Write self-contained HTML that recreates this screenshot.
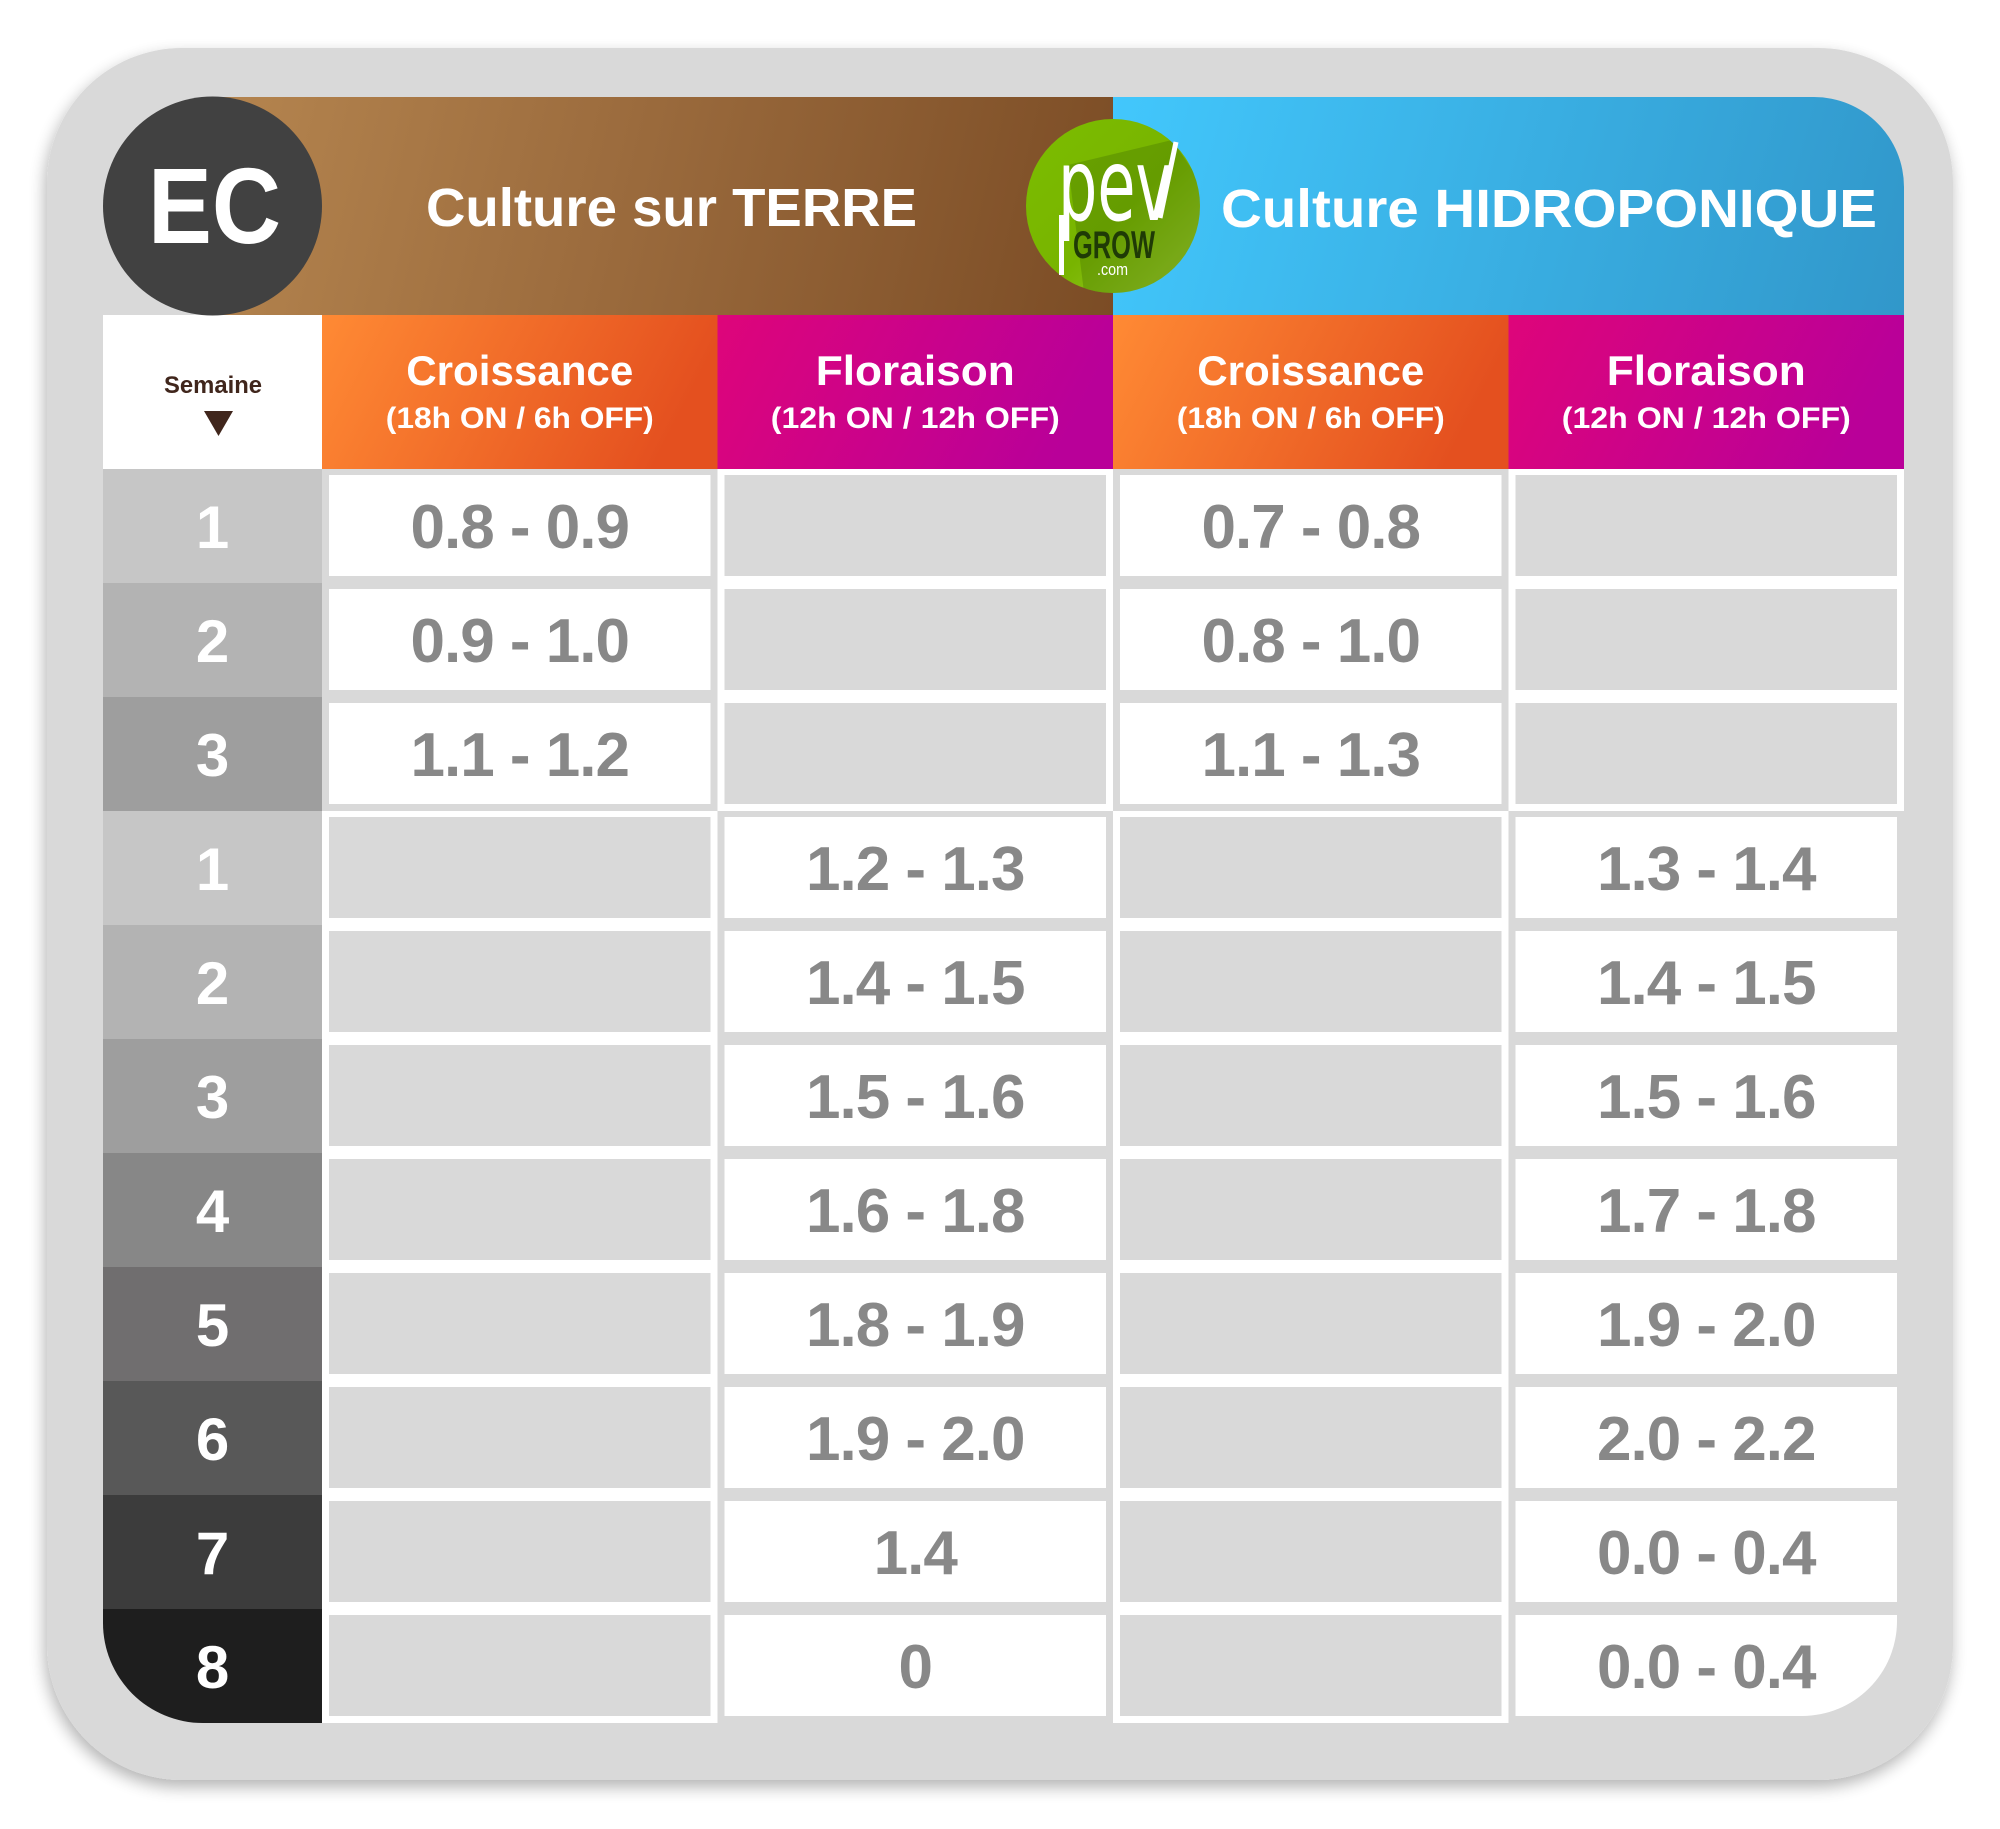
<!DOCTYPE html>
<html>
<head>
<meta charset="utf-8">
<style>
html,body{margin:0;padding:0;background:#fff;}
svg{display:block;}
text{font-family:"Liberation Sans",Arial,sans-serif;font-weight:bold;}
</style>
</head>
<body>
<svg width="2000" height="1829" viewBox="0 0 2000 1829" xmlns="http://www.w3.org/2000/svg">
<defs>
  <filter id="sh" x="-5%" y="-5%" width="110%" height="112%">
    <feGaussianBlur in="SourceAlpha" stdDeviation="8"/>
    <feOffset dx="-2" dy="7" result="o"/>
    <feComponentTransfer><feFuncA type="linear" slope="0.3"/></feComponentTransfer>
    <feMerge><feMergeNode/><feMergeNode in="SourceGraphic"/></feMerge>
  </filter>
  <linearGradient id="brown" x1="212" y1="97" x2="1113" y2="315" gradientUnits="userSpaceOnUse">
    <stop offset="0" stop-color="#b5854f"/>
    <stop offset="0.45" stop-color="#9b6b3d"/>
    <stop offset="1" stop-color="#7b4c25"/>
  </linearGradient>
  <linearGradient id="blue" x1="1113" y1="97" x2="1904" y2="315" gradientUnits="userSpaceOnUse">
    <stop offset="0" stop-color="#42c7fc"/>
    <stop offset="1" stop-color="#3197ca"/>
  </linearGradient>
  <linearGradient id="orange" x1="0" y1="0" x2="1" y2="0.2">
    <stop offset="0" stop-color="#ff8a34"/>
    <stop offset="1" stop-color="#e4501f"/>
  </linearGradient>
  <linearGradient id="mag" x1="0" y1="0" x2="1" y2="0.2">
    <stop offset="0" stop-color="#de057a"/>
    <stop offset="1" stop-color="#b90099"/>
  </linearGradient>
  <linearGradient id="green" x1="0" y1="0" x2="1" y2="1">
    <stop offset="0" stop-color="#7cbd00"/>
    <stop offset="0.55" stop-color="#78b400"/>
    <stop offset="1" stop-color="#a2cf36"/>
  </linearGradient>
  <clipPath id="logoclip"><circle cx="1113" cy="206" r="87"/></clipPath>
</defs>

<rect x="0" y="0" width="2000" height="1829" fill="#fff"/>
<rect x="47" y="48" width="1906" height="1732" rx="135" ry="135" fill="#d9d9d9" filter="url(#sh)"/>

<rect x="212" y="97" width="901" height="218" fill="url(#brown)"/>
<path d="M1113 97 H1814 A90 90 0 0 1 1904 187 V315 H1113 Z" fill="url(#blue)"/>

<rect x="103" y="315" width="219" height="154" fill="#fff"/>
<rect x="322" y="315" width="395.5" height="154" fill="url(#orange)"/>
<rect x="717.5" y="315" width="395.5" height="154" fill="url(#mag)"/>
<rect x="1113" y="315" width="395.5" height="154" fill="url(#orange)"/>
<rect x="1508.5" y="315" width="395.5" height="154" fill="url(#mag)"/>

<circle cx="212.5" cy="206" r="109.5" fill="#414141"/>
<text x="148" y="243" font-size="108" fill="#fff" textLength="133" lengthAdjust="spacingAndGlyphs">EC</text>

<text x="426" y="226" font-size="54" fill="#fff" textLength="491" lengthAdjust="spacingAndGlyphs">Culture sur TERRE</text>
<text x="1221" y="227" font-size="54" fill="#fff" textLength="656" lengthAdjust="spacingAndGlyphs">Culture HIDROPONIQUE</text>

<!-- logo -->
<circle cx="1113" cy="206" r="87" fill="url(#green)"/>
<g clip-path="url(#logoclip)">
  <polygon points="1068,165 1172,140 1240,240 1170,310 1085,300" fill="#3a6800" opacity="0.3"/>
</g>
<g transform="translate(1058,220) scale(0.62,1)">
  <text x="0" y="0" font-size="100" fill="#fff" style="font-family:'DejaVu Sans',sans-serif;font-weight:normal">pev</text>
</g>
<line x1="1160" y1="218" x2="1176" y2="142" stroke="#fff" stroke-width="5"/>
<rect x="1059" y="215" width="5" height="60" fill="#fff"/>
<text x="1073" y="258" font-size="39" fill="#1f3a06" textLength="82" lengthAdjust="spacingAndGlyphs">GROW</text>
<text x="1097" y="275" font-size="17" fill="#fff" style="font-weight:normal" textLength="31" lengthAdjust="spacingAndGlyphs">.com</text>

<text x="164" y="393" font-size="24" fill="#40261c" textLength="98" lengthAdjust="spacingAndGlyphs">Semaine</text>
<polygon points="204,411 233,411 218.5,436" fill="#40261c"/>

<g fill="#fff" text-anchor="middle">
  <text x="519.75" y="385" font-size="42" textLength="227" lengthAdjust="spacingAndGlyphs">Croissance</text>
  <text x="519.75" y="428" font-size="30" textLength="268" lengthAdjust="spacingAndGlyphs">(18h ON / 6h OFF)</text>
  <text x="915.25" y="385" font-size="42" textLength="199" lengthAdjust="spacingAndGlyphs">Floraison</text>
  <text x="915.25" y="428" font-size="30" textLength="289" lengthAdjust="spacingAndGlyphs">(12h ON / 12h OFF)</text>
  <text x="1310.75" y="385" font-size="42" textLength="227" lengthAdjust="spacingAndGlyphs">Croissance</text>
  <text x="1310.75" y="428" font-size="30" textLength="268" lengthAdjust="spacingAndGlyphs">(18h ON / 6h OFF)</text>
  <text x="1706.25" y="385" font-size="42" textLength="199" lengthAdjust="spacingAndGlyphs">Floraison</text>
  <text x="1706.25" y="428" font-size="30" textLength="289" lengthAdjust="spacingAndGlyphs">(12h ON / 12h OFF)</text>
</g>

<rect x="103" y="469" width="219" height="114" fill="#c6c6c6"/>
<rect x="103" y="583" width="219" height="114" fill="#b3b3b3"/>
<rect x="103" y="697" width="219" height="114" fill="#9e9e9e"/>
<rect x="103" y="811" width="219" height="114" fill="#c6c6c6"/>
<rect x="103" y="925" width="219" height="114" fill="#b3b3b3"/>
<rect x="103" y="1039" width="219" height="114" fill="#9e9e9e"/>
<rect x="103" y="1153" width="219" height="114" fill="#878787"/>
<rect x="103" y="1267" width="219" height="114" fill="#706e6f"/>
<rect x="103" y="1381" width="219" height="114" fill="#585858"/>
<rect x="103" y="1495" width="219" height="114" fill="#3c3c3c"/>
<path d="M103 1609 H322 V1723 H203 A100 100 0 0 1 103 1623 Z" fill="#1e1e1e"/>

<g fill="#fff" font-size="60" text-anchor="middle">
  <text x="212.5" y="548">1</text>
  <text x="212.5" y="662">2</text>
  <text x="212.5" y="776">3</text>
  <text x="212.5" y="890">1</text>
  <text x="212.5" y="1004">2</text>
  <text x="212.5" y="1118">3</text>
  <text x="212.5" y="1232">4</text>
  <text x="212.5" y="1346">5</text>
  <text x="212.5" y="1460">6</text>
  <text x="212.5" y="1574">7</text>
  <text x="212.5" y="1688">8</text>
</g>

<g>
  <rect x="322" y="469" width="395.5" height="114" fill="#d9d9d9"/><rect x="329" y="475" width="381.5" height="101" fill="#fff"/>
  <rect x="717.5" y="469" width="395.5" height="114" fill="#fff"/><rect x="724.5" y="475" width="381.5" height="101" fill="#d9d9d9"/>
  <rect x="1113" y="469" width="395.5" height="114" fill="#d9d9d9"/><rect x="1120" y="475" width="381.5" height="101" fill="#fff"/>
  <rect x="1508.5" y="469" width="395.5" height="114" fill="#fff"/><rect x="1515.5" y="475" width="381.5" height="101" fill="#d9d9d9"/>

  <rect x="322" y="583" width="395.5" height="114" fill="#d9d9d9"/><rect x="329" y="589" width="381.5" height="101" fill="#fff"/>
  <rect x="717.5" y="583" width="395.5" height="114" fill="#fff"/><rect x="724.5" y="589" width="381.5" height="101" fill="#d9d9d9"/>
  <rect x="1113" y="583" width="395.5" height="114" fill="#d9d9d9"/><rect x="1120" y="589" width="381.5" height="101" fill="#fff"/>
  <rect x="1508.5" y="583" width="395.5" height="114" fill="#fff"/><rect x="1515.5" y="589" width="381.5" height="101" fill="#d9d9d9"/>

  <rect x="322" y="697" width="395.5" height="114" fill="#d9d9d9"/><rect x="329" y="703" width="381.5" height="101" fill="#fff"/>
  <rect x="717.5" y="697" width="395.5" height="114" fill="#fff"/><rect x="724.5" y="703" width="381.5" height="101" fill="#d9d9d9"/>
  <rect x="1113" y="697" width="395.5" height="114" fill="#d9d9d9"/><rect x="1120" y="703" width="381.5" height="101" fill="#fff"/>
  <rect x="1508.5" y="697" width="395.5" height="114" fill="#fff"/><rect x="1515.5" y="703" width="381.5" height="101" fill="#d9d9d9"/>

  <rect x="322" y="811" width="395.5" height="114" fill="#fff"/><rect x="329" y="817" width="381.5" height="101" fill="#d9d9d9"/>
  <rect x="717.5" y="811" width="395.5" height="114" fill="#d9d9d9"/><rect x="724.5" y="817" width="381.5" height="101" fill="#fff"/>
  <rect x="1113" y="811" width="395.5" height="114" fill="#fff"/><rect x="1120" y="817" width="381.5" height="101" fill="#d9d9d9"/>
  <rect x="1508.5" y="811" width="395.5" height="114" fill="#d9d9d9"/><rect x="1515.5" y="817" width="381.5" height="101" fill="#fff"/>

  <rect x="322" y="925" width="395.5" height="114" fill="#fff"/><rect x="329" y="931" width="381.5" height="101" fill="#d9d9d9"/>
  <rect x="717.5" y="925" width="395.5" height="114" fill="#d9d9d9"/><rect x="724.5" y="931" width="381.5" height="101" fill="#fff"/>
  <rect x="1113" y="925" width="395.5" height="114" fill="#fff"/><rect x="1120" y="931" width="381.5" height="101" fill="#d9d9d9"/>
  <rect x="1508.5" y="925" width="395.5" height="114" fill="#d9d9d9"/><rect x="1515.5" y="931" width="381.5" height="101" fill="#fff"/>

  <rect x="322" y="1039" width="395.5" height="114" fill="#fff"/><rect x="329" y="1045" width="381.5" height="101" fill="#d9d9d9"/>
  <rect x="717.5" y="1039" width="395.5" height="114" fill="#d9d9d9"/><rect x="724.5" y="1045" width="381.5" height="101" fill="#fff"/>
  <rect x="1113" y="1039" width="395.5" height="114" fill="#fff"/><rect x="1120" y="1045" width="381.5" height="101" fill="#d9d9d9"/>
  <rect x="1508.5" y="1039" width="395.5" height="114" fill="#d9d9d9"/><rect x="1515.5" y="1045" width="381.5" height="101" fill="#fff"/>

  <rect x="322" y="1153" width="395.5" height="114" fill="#fff"/><rect x="329" y="1159" width="381.5" height="101" fill="#d9d9d9"/>
  <rect x="717.5" y="1153" width="395.5" height="114" fill="#d9d9d9"/><rect x="724.5" y="1159" width="381.5" height="101" fill="#fff"/>
  <rect x="1113" y="1153" width="395.5" height="114" fill="#fff"/><rect x="1120" y="1159" width="381.5" height="101" fill="#d9d9d9"/>
  <rect x="1508.5" y="1153" width="395.5" height="114" fill="#d9d9d9"/><rect x="1515.5" y="1159" width="381.5" height="101" fill="#fff"/>

  <rect x="322" y="1267" width="395.5" height="114" fill="#fff"/><rect x="329" y="1273" width="381.5" height="101" fill="#d9d9d9"/>
  <rect x="717.5" y="1267" width="395.5" height="114" fill="#d9d9d9"/><rect x="724.5" y="1273" width="381.5" height="101" fill="#fff"/>
  <rect x="1113" y="1267" width="395.5" height="114" fill="#fff"/><rect x="1120" y="1273" width="381.5" height="101" fill="#d9d9d9"/>
  <rect x="1508.5" y="1267" width="395.5" height="114" fill="#d9d9d9"/><rect x="1515.5" y="1273" width="381.5" height="101" fill="#fff"/>

  <rect x="322" y="1381" width="395.5" height="114" fill="#fff"/><rect x="329" y="1387" width="381.5" height="101" fill="#d9d9d9"/>
  <rect x="717.5" y="1381" width="395.5" height="114" fill="#d9d9d9"/><rect x="724.5" y="1387" width="381.5" height="101" fill="#fff"/>
  <rect x="1113" y="1381" width="395.5" height="114" fill="#fff"/><rect x="1120" y="1387" width="381.5" height="101" fill="#d9d9d9"/>
  <rect x="1508.5" y="1381" width="395.5" height="114" fill="#d9d9d9"/><rect x="1515.5" y="1387" width="381.5" height="101" fill="#fff"/>

  <rect x="322" y="1495" width="395.5" height="114" fill="#fff"/><rect x="329" y="1501" width="381.5" height="101" fill="#d9d9d9"/>
  <rect x="717.5" y="1495" width="395.5" height="114" fill="#d9d9d9"/><rect x="724.5" y="1501" width="381.5" height="101" fill="#fff"/>
  <rect x="1113" y="1495" width="395.5" height="114" fill="#fff"/><rect x="1120" y="1501" width="381.5" height="101" fill="#d9d9d9"/>
  <rect x="1508.5" y="1495" width="395.5" height="114" fill="#d9d9d9"/><rect x="1515.5" y="1501" width="381.5" height="101" fill="#fff"/>

  <rect x="322" y="1609" width="395.5" height="114" fill="#fff"/><rect x="329" y="1615" width="381.5" height="101" fill="#d9d9d9"/>
  <rect x="717.5" y="1609" width="395.5" height="114" fill="#d9d9d9"/><rect x="724.5" y="1615" width="381.5" height="101" fill="#fff"/>
  <rect x="1113" y="1609" width="395.5" height="114" fill="#fff"/><rect x="1120" y="1615" width="381.5" height="101" fill="#d9d9d9"/>
  <path d="M1515.5 1615 H1897 V1621 A95 95 0 0 1 1802 1716 H1515.5 Z" fill="#fff"/>
</g>

<g fill="#888888" font-size="62" text-anchor="middle" letter-spacing="-1">
  <text x="519.75" y="548">0.8 - 0.9</text>
  <text x="1310.75" y="548">0.7 - 0.8</text>
  <text x="519.75" y="662">0.9 - 1.0</text>
  <text x="1310.75" y="662">0.8 - 1.0</text>
  <text x="519.75" y="776">1.1 - 1.2</text>
  <text x="1310.75" y="776">1.1 - 1.3</text>

  <text x="915.25" y="890">1.2 - 1.3</text>
  <text x="1706.25" y="890">1.3 - 1.4</text>
  <text x="915.25" y="1004">1.4 - 1.5</text>
  <text x="1706.25" y="1004">1.4 - 1.5</text>
  <text x="915.25" y="1118">1.5 - 1.6</text>
  <text x="1706.25" y="1118">1.5 - 1.6</text>
  <text x="915.25" y="1232">1.6 - 1.8</text>
  <text x="1706.25" y="1232">1.7 - 1.8</text>
  <text x="915.25" y="1346">1.8 - 1.9</text>
  <text x="1706.25" y="1346">1.9 - 2.0</text>
  <text x="915.25" y="1460">1.9 - 2.0</text>
  <text x="1706.25" y="1460">2.0 - 2.2</text>
  <text x="915.25" y="1574">1.4</text>
  <text x="1706.25" y="1574">0.0 - 0.4</text>
  <text x="915.25" y="1688">0</text>
  <text x="1706.25" y="1688">0.0 - 0.4</text>
</g>
</svg>
</body>
</html>
